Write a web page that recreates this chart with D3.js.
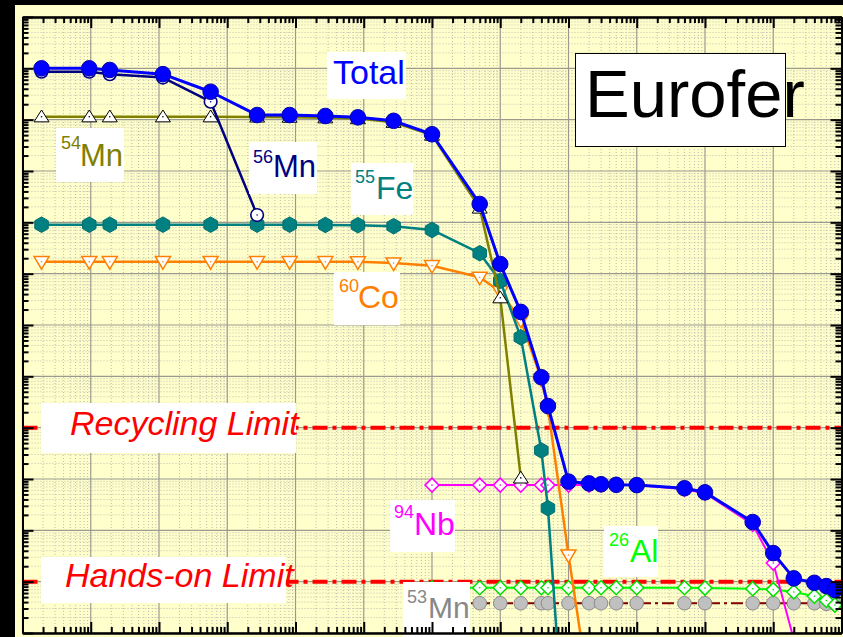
<!DOCTYPE html>
<html>
<head>
<meta charset="utf-8">
<script src="https://cdn.jsdelivr.net/npm/d3@7"></script>
<style>
  html, body { margin: 0; padding: 0; background: #000; }
  svg { display: block; }
  text { font-family: "Liberation Sans", Arial, Helvetica, sans-serif; }
</style>
</head>
<body>
<svg id="chart" width="843" height="637"></svg>
<script>
// Cooling time after shutdown, in years (1 min, 5 min, 10 min, 1 h, 5 h, 1 d, 3 d, 10 d, 30 d, 100 d, then years)
const coolingYears = [1.901e-6, 9.51e-6, 1.901e-5, 1.141e-4, 5.71e-4, 2.738e-3, 8.21e-3, 2.738e-2, 8.21e-2, 0.2738,
  1, 5, 10, 20, 40, 50, 100, 200, 300, 500, 1000, 5000, 1e4, 5e4, 1e5, 2e5, 4e5, 6e5, 8e5];

// Contact dose rate (Sv/h) per nuclide; null = not shown
const doseTotal = [1.0e5, 1.0e5, 9.3e4, 7.7e4, 3.5e4, 1.23e4, 1.23e4, 1.18e4, 1.11e4, 9.5e3,
  5.2e3, 228, 15.4, 1.8, 0.096, 0.0264, 8.9e-4, 8.2e-4, 7.9e-4, 7.7e-4, 7.6e-4, 6.6e-4, 5.5e-4, 1.45e-4, 3.6e-5, 1.16e-5, 9.5e-6, 8.2e-6, 6.9e-6];
const doseMn56 = [8.6e4, 8.6e4, 7.7e4, 6.6e4, 2.24e4, 139, null, null, null, null,
  null, null, null, null, null, null, null, null, null, null, null, null, null, null, null, null, null, null, null];
const doseMn54 = [1.14e4, 1.14e4, 1.14e4, 1.14e4, 1.14e4, 1.13e4, 1.12e4, 1.09e4, 1.05e4, 8.9e3,
  5.0e3, 190, 3.4, 1.05e-3, null, null, null, null, null, null, null, null, null, null, null, null, null, null, null];
const doseFe55 = [90, 90, 90, 90, 90, 90, 90, 89, 88, 84,
  71, 25, 7.2, 0.575, 3.6e-3, 2.7e-4, 4.5e-10, null, null, null, null, null, null, null, null, null, null, null, null];
const doseCo60 = [17.1, 17.1, 17.1, 17.1, 17.1, 17.1, 17.1, 17.1, 17.0, 16.1,
  14.3, 8.5, 4.45, 1.25, 0.088, 0.024, 3.3e-5, 7.4e-8, null, null, null, null, null, null, null, null, null, null, null];
const doseNb94 = [null, null, null, null, null, null, null, null, null, null,
  7.6e-4, 7.6e-4, 7.6e-4, 7.6e-4, 7.6e-4, 7.6e-4, 7.6e-4, 7.6e-4, 7.6e-4, 7.6e-4, 7.6e-4, 6.3e-4, 5.3e-4, 1.3e-4, 2.3e-5, 7.5e-7, 8e-10, null, null];
const doseAl26 = [null, null, null, null, null, null, null, null, null, null,
  7.6e-6, 7.6e-6, 7.6e-6, 7.6e-6, 7.6e-6, 7.6e-6, 7.6e-6, 7.6e-6, 7.6e-6, 7.6e-6, 7.6e-6, 7.6e-6, 7.5e-6, 7.3e-6, 7.0e-6, 6.3e-6, 5.2e-6, 4.3e-6, 3.5e-6];
const doseMn53 = [null, null, null, null, null, null, null, null, null, null,
  3.8e-6, 3.8e-6, 3.8e-6, 3.8e-6, 3.8e-6, 3.8e-6, 3.8e-6, 3.8e-6, 3.8e-6, 3.8e-6, 3.8e-6, 3.8e-6, 3.8e-6, 3.8e-6, 3.8e-6, 3.8e-6, 3.8e-6, 3.7e-6, 3.7e-6];

// Handling limits (Sv/h)
const limitValues = [1e-2, 1e-5];
const limitNames = ["Recycling Limit", "Hands-on Limit"];

// Axis extents (decades)
const timeDomain = [1e-6, 1e6];
const doseDomain = [1e-6, 1e6];

const svg = d3.select("#chart");
const W = 843, H = 637;
const plot = { left: 22.5, right: 841.5, top: 17, bottom: 633 };

// page background: black band top/left, pale yellow panel
svg.append("rect").attr("width", W).attr("height", H).attr("fill", "#000");
svg.append("rect").attr("x", 15).attr("y", 5).attr("width", W - 15).attr("height", H - 5).attr("fill", "#FFFFCC");

const x = d3.scaleLog().domain(timeDomain).range([plot.left, plot.right]);
const y = d3.scaleLog().domain(doseDomain).range([plot.bottom, plot.top]);

function decadeTicks(domain) {
  const lo = Math.round(Math.log10(domain[0])), hi = Math.round(Math.log10(domain[1]));
  const major = [], minor = [];
  for (let e = lo; e <= hi; e++) {
    major.push(Math.pow(10, e));
    if (e < hi) for (let k = 2; k <= 9; k++) minor.push(k * Math.pow(10, e));
  }
  return { major, minor };
}
const xt = decadeTicks(timeDomain), yt = decadeTicks(doseDomain);

// grid
const grid = svg.append("g");
grid.selectAll(".gxm").data(xt.minor).join("line")
  .attr("x1", d => x(d)).attr("x2", d => x(d)).attr("y1", plot.top).attr("y2", plot.bottom)
  .attr("stroke", "#BDBDB0").attr("stroke-width", 1).attr("stroke-dasharray", "1,2");
grid.selectAll(".gym").data(yt.minor).join("line")
  .attr("y1", d => y(d)).attr("y2", d => y(d)).attr("x1", plot.left).attr("x2", plot.right)
  .attr("stroke", "#BDBDB0").attr("stroke-width", 1).attr("stroke-dasharray", "1,2");
grid.selectAll(".gxM").data(xt.major).join("line")
  .attr("x1", d => x(d)).attr("x2", d => x(d)).attr("y1", plot.top).attr("y2", plot.bottom)
  .attr("stroke", "#9A9A90").attr("stroke-width", 1.2);
grid.selectAll(".gyM").data(yt.major).join("line")
  .attr("y1", d => y(d)).attr("y2", d => y(d)).attr("x1", plot.left).attr("x2", plot.right)
  .attr("stroke", "#9A9A90").attr("stroke-width", 1.2);

svg.append("clipPath").attr("id", "plotClip").append("rect")
  .attr("x", plot.left).attr("y", plot.top)
  .attr("width", plot.right - plot.left).attr("height", plot.bottom - plot.top);

const body = svg.append("g").attr("clip-path", "url(#plotClip)");

// limit lines
body.selectAll(".limit").data(limitValues).join("line")
  .attr("x1", plot.left).attr("x2", plot.right)
  .attr("y1", d => y(d)).attr("y2", d => y(d))
  .attr("stroke", "#FF0000").attr("stroke-width", 4)
  .attr("stroke-dasharray", "15,5,4,5");

// marker shapes
const markerPath = {
  circle: r => `M${-r},0A${r},${r} 0 1,0 ${r},0A${r},${r} 0 1,0 ${-r},0Z`,
  triUp: s => `M0,${-s * 0.9}L${s},${s * 0.68}L${-s},${s * 0.68}Z`,
  triDown: s => `M0,${s * 1.0}L${s},${-s * 0.68}L${-s},${-s * 0.68}Z`,
  diamond: s => `M0,${-s}L${s},0L0,${s}L${-s},0Z`,
  hexagon: s => {
    const pts = d3.range(6).map(i => {
      const a = Math.PI / 2 + i * Math.PI / 3;
      return [s * Math.cos(a), s * Math.sin(a)];
    });
    return "M" + pts.map(p => p.join(",")).join("L") + "Z";
  }
};

const series = [
  { values: doseMn53, line: "#800000", lw: 2, dash: "12,4,3,4", shape: "circle", size: 6.8, fill: "#C0C0C0", stroke: "#8A8A8A", sw: 1, dot: false },
  { values: doseAl26, line: "#00FF00", lw: 2, shape: "diamond", size: 7, fill: "#FFFFFF", stroke: "#00E000", sw: 1.5, dot: true },
  { values: doseNb94, line: "#FF00FF", lw: 2, shape: "diamond", size: 7, fill: "#FFFFFF", stroke: "#FF00FF", sw: 1.5, dot: true },
  { values: doseCo60, line: "#FF8000", lw: 2.5, shape: "triDown", size: 7.5, fill: "#FFFFFF", stroke: "#FF8000", sw: 1.5, dot: true },
  { values: doseFe55, line: "#008080", lw: 2.5, shape: "hexagon", size: 7.8, fill: "#008080", stroke: "#007070", sw: 1, dot: false },
  { values: doseMn54, line: "#808000", lw: 2.5, shape: "triUp", size: 7.5, fill: "#FFFFFF", stroke: "#000000", sw: 1, dot: true },
  { values: doseMn56, line: "#000080", lw: 2.5, shape: "circle", size: 6.3, fill: "#FFFFFF", stroke: "#000080", sw: 1.6, dot: true },
  { values: doseTotal, line: "#0000FF", lw: 3, shape: "circle", size: 7.8, fill: "#0000FF", stroke: "#0000B0", sw: 1, dot: false }
];

const lineGen = d3.line()
  .defined(d => d.v != null)
  .x(d => x(d.t)).y(d => y(d.v));

series.forEach(s => {
  const pts = coolingYears.map((t, i) => ({ t, v: s.values[i] }));
  const g = body.append("g");
  g.append("path").datum(pts)
    .attr("d", lineGen)
    .attr("fill", "none")
    .attr("stroke", s.line)
    .attr("stroke-width", s.lw)
    .attr("stroke-linejoin", "round")
    .attr("stroke-dasharray", s.dash || null);
  const shown = pts.filter(d => d.v != null);
  const m = g.selectAll(".mk").data(shown).join("g")
    .attr("transform", d => `translate(${x(d.t)},${y(d.v)})`);
  m.append("path")
    .attr("d", markerPath[s.shape](s.size))
    .attr("fill", s.fill).attr("stroke", s.stroke).attr("stroke-width", s.sw);
  if (s.dot) m.append("circle").attr("r", 0.8).attr("fill", s.stroke);
});

// annotation labels (white boxes with coloured text)
const labels = [
  { main: "Total", color: "#0000FF", box: [327, 52, 79, 47], mx: 333, my: 84, ms: 34 },
  { sup: "54", main: "Mn", color: "#808000", box: [56, 128, 68, 54], sx: 61, sy: 149, mx: 80, my: 166, ms: 31 },
  { sup: "56", main: "Mn", color: "#000080", box: [249, 142, 68, 52], sx: 253, sy: 163, mx: 273, my: 177, ms: 31 },
  { sup: "55", main: "Fe", color: "#008080", box: [351, 163, 62, 52], sx: 355, sy: 183, mx: 376, my: 199, ms: 32 },
  { sup: "60", main: "Co", color: "#FF8000", box: [334, 272, 66, 53], sx: 339, sy: 292, mx: 358, my: 308, ms: 32 },
  { sup: "94", main: "Nb", color: "#FF00FF", box: [390, 500, 65, 52], sx: 394, sy: 518, mx: 414, my: 535, ms: 32 },
  { sup: "26", main: "Al", color: "#00FF00", box: [604, 526, 54, 51], sx: 609, sy: 546, mx: 630, my: 562, ms: 32 },
  { sup: "53", main: "Mn", color: "#888888", box: [403, 582, 67, 56], sx: 407, sy: 603, mx: 428, my: 618, ms: 30 },
  { main: limitNames[0], color: "#FF0000", italic: true, box: [41, 403, 255, 50], mx: 70, my: 435, ms: 34 },
  { main: limitNames[1], color: "#FF0000", italic: true, box: [41, 557, 245, 46], mx: 65, my: 587, ms: 34 }
];

const lab = svg.append("g");
labels.forEach(l => {
  lab.append("rect").attr("x", l.box[0]).attr("y", l.box[1])
    .attr("width", l.box[2]).attr("height", l.box[3]).attr("fill", "#FFFFFF");
  if (l.sup) {
    lab.append("text").attr("x", l.sx).attr("y", l.sy)
      .attr("font-size", 18).attr("fill", l.color).text(l.sup);
  }
  lab.append("text").attr("x", l.mx).attr("y", l.my)
    .attr("font-size", l.ms).attr("fill", l.color)
    .attr("font-style", l.italic ? "italic" : null)
    .text(l.main);
});

// material title
lab.append("rect").attr("x", 575.5).attr("y", 53.5).attr("width", 210).attr("height", 93)
  .attr("fill", "#FFFFFF").attr("stroke", "#000").attr("stroke-width", 1);
lab.append("text").attr("x", 585).attr("y", 117).attr("font-size", 67).attr("fill", "#000").text("Eurofer");

// axes: inward ticks on all four sides, no labels
const axes = svg.append("g");
function drawAxis(gen, tr, vals, size) {
  const a = gen.tickValues(vals).tickSizeInner(size).tickSizeOuter(0).tickFormat("");
  const g = axes.append("g").attr("transform", tr).call(a);
  g.selectAll("line").attr("stroke", "#000").attr("stroke-width", 2);
  g.select(".domain").attr("stroke", "#000").attr("stroke-width", 2);
}
[[xt.minor, 6], [xt.major, 11]].forEach(([v, s]) => {
  drawAxis(d3.axisBottom(x), `translate(0,${plot.top})`, v, s);
  drawAxis(d3.axisTop(x), `translate(0,${plot.bottom})`, v, s);
});
[[yt.minor, 6], [yt.major, 11]].forEach(([v, s]) => {
  drawAxis(d3.axisRight(y), `translate(${plot.left},0)`, v, s);
  drawAxis(d3.axisLeft(y), `translate(${plot.right},0)`, v, s);
});
</script>
</body>
</html>
